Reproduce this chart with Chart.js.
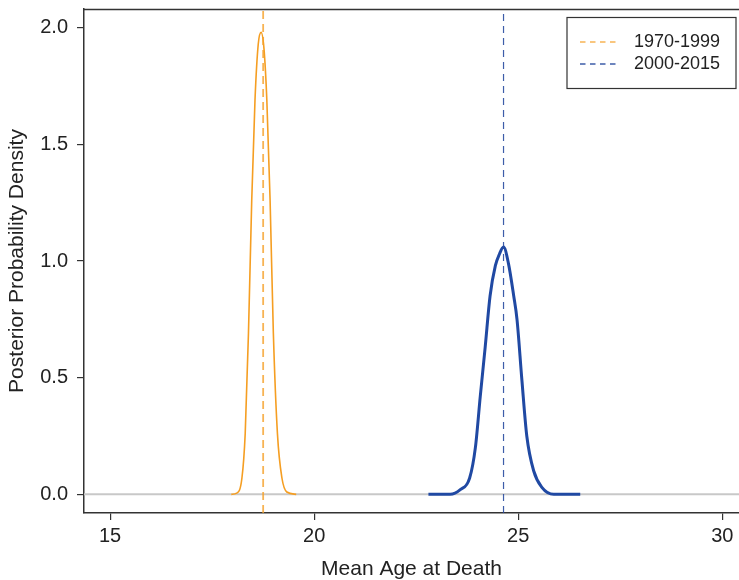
<!DOCTYPE html>
<html><head><meta charset="utf-8">
<script src="https://cdn.jsdelivr.net/npm/chart.js@4/dist/chart.umd.min.js"></script>
<style>html,body{margin:0;padding:0;background:#fff;overflow:hidden}#wrap{width:739px;height:580px;position:relative}</style>
</head><body><div id="wrap"><canvas id="c" width="739" height="580"></canvas></div>
<script>
// Data
const seriesLabels = ["1970-1999", "2000-2015"];
const x1970 = [17.97, 18.10, 18.23, 18.31, 18.39, 18.47, 18.55, 18.63, 18.70, 18.77, 18.84, 18.92, 19.00, 19.10, 19.21, 19.33, 19.56];
const y1970 = [0.00, 0.005, 0.07, 0.26, 0.69, 1.26, 1.69, 1.93, 1.98, 1.91, 1.69, 1.26, 0.69, 0.26, 0.07, 0.01, 0.00];
const x2000 = [22.80, 23.33, 23.58, 23.81, 23.95, 24.07, 24.19, 24.31, 24.44, 24.54, 24.64, 24.76, 24.89, 24.97, 25.09, 25.21, 25.38, 25.58, 25.87, 26.52];
const y2000 = [0.00, 0.00, 0.02, 0.07, 0.20, 0.42, 0.63, 0.85, 0.98, 1.03, 1.06, 0.99, 0.85, 0.75, 0.49, 0.25, 0.10, 0.03, 0.00, 0.00];
const meanLines = [18.75, 24.64];
const xTicks = [15, 20, 25, 30];
const yTicks = [0, 0.5, 1.0, 1.5, 2.0];
const xRange = [14.36, 30.41];
const yRange = [-0.08, 2.08];

const ORANGE = "#F59E22", BLUE = "#2049A3";
const ORANGE_D = "rgba(245,160,40,0.8)", BLUE_D = "rgba(40,75,160,0.9)";
const pts = (xs, ys) => xs.map((x, i) => ({x, y: ys[i]}));
const vline = x => [{x, y: yRange[0]}, {x, y: yRange[1]}];

const FONT = "'Liberation Sans', Arial, Helvetica, sans-serif";

const framePlugin = {
  id: 'frame',
  afterDraw(chart) {
    const {ctx, chartArea: a} = chart;
    ctx.save();
    ctx.strokeStyle = "#333"; ctx.lineWidth = 1.5;
    ctx.beginPath(); ctx.moveTo(a.left, a.top + 0.5); ctx.lineTo(chart.width, a.top + 0.5); ctx.stroke();
    // legend
    const lx = 567, ly = 17.5, lw = 169, lh = 71;
    ctx.fillStyle = "#fff"; ctx.fillRect(lx, ly, lw, lh);
    ctx.strokeStyle = "#333"; ctx.lineWidth = 1.2; ctx.strokeRect(lx, ly, lw, lh);
    const cols = [ORANGE_D, BLUE_D];
    seriesLabels.forEach((lab, i) => {
      const y = 42 + i * 22;
      ctx.strokeStyle = cols[i]; ctx.lineWidth = 1.3; ctx.setLineDash([5.5, 4.5]);
      ctx.beginPath(); ctx.moveTo(580, y); ctx.lineTo(617, y); ctx.stroke();
      ctx.setLineDash([]);
      ctx.fillStyle = "#222"; ctx.font = "18px " + FONT; ctx.textBaseline = "middle"; ctx.textAlign = "left";
      ctx.fillText(lab, 634, y);
    });
    ctx.restore();
  }
};

new Chart(document.getElementById('c'), {
  type: 'scatter',
  data: {
    datasets: [
      {data: [{x: xRange[0], y: 0}, {x: xRange[1], y: 0}], borderColor: "#c8c8c8", borderWidth: 2, showLine: true, pointRadius: 0, order: 10},
      {label: seriesLabels[0], data: pts(x1970, y1970), borderColor: ORANGE, borderWidth: 1.6, showLine: true, pointRadius: 0, cubicInterpolationMode: 'monotone', order: 3},
      {label: seriesLabels[1], data: pts(x2000, y2000), borderColor: BLUE, borderWidth: 3, showLine: true, pointRadius: 0, cubicInterpolationMode: 'monotone', order: 2},
      {data: vline(meanLines[0]), borderColor: ORANGE_D, borderWidth: 1.8, borderDash: [8, 5], showLine: true, pointRadius: 0, order: 1},
      {data: vline(meanLines[1]), borderColor: BLUE_D, borderWidth: 1.2, borderDash: [7, 5], showLine: true, pointRadius: 0, order: 0}
    ]
  },
  options: {
    responsive: false, animation: false, devicePixelRatio: 1,
    layout: {padding: {top: 9, right: 0, left: 0, bottom: 0}},
    plugins: {legend: {display: false}, tooltip: {enabled: false}},
    scales: {
      x: {
        type: 'linear', min: xRange[0], max: xRange[1],
        afterBuildTicks: s => { s.ticks = xTicks.map(v => ({value: v})); },
        afterFit: s => { s.height = 67; s.paddingLeft = 0; s.paddingRight = 0; },
        grid: {drawOnChartArea: false, drawTicks: true, tickLength: 7, color: "#333", lineWidth: 1.2},
        border: {display: true, color: "#333", width: 1.5},
        ticks: {color: "#222", font: {family: FONT, size: 20}, padding: 4, maxRotation: 0},
        title: {display: true, text: "Mean Age at Death", color: "#222", font: {family: FONT, size: 21}, padding: {top: 5, bottom: -2}}
      },
      y: {
        type: 'linear', min: yRange[0], max: yRange[1],
        afterBuildTicks: s => { s.ticks = yTicks.map(v => ({value: v})); },
        afterFit: s => { s.width = 84; s.paddingTop = 0; s.paddingBottom = 0; },
        grid: {drawOnChartArea: false, drawTicks: true, tickLength: 7, color: "#333", lineWidth: 1.2},
        border: {display: true, color: "#333", width: 1.5},
        ticks: {color: "#222", font: {family: FONT, size: 20, lineHeight: 1.0}, padding: 9, callback: v => Number(v).toFixed(1)},
        title: {display: true, text: "Posterior Probability Density", color: "#222", font: {family: FONT, size: 21}, padding: {top: 5, bottom: 0}}
      }
    }
  },
  plugins: [framePlugin]
});
</script></body></html>
